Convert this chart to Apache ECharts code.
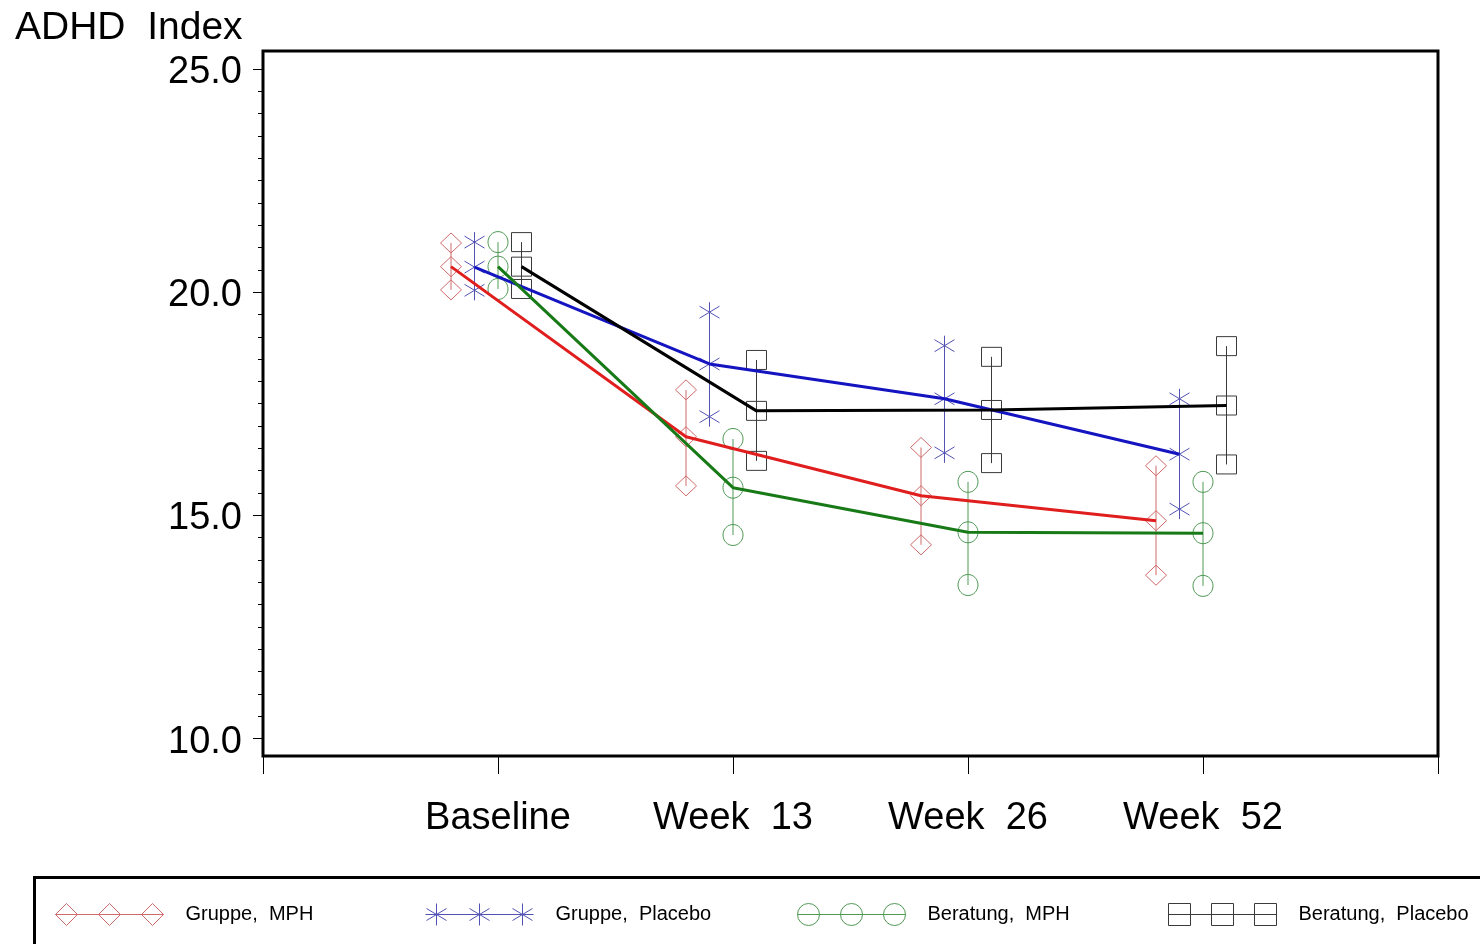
<!DOCTYPE html>
<html>
<head>
<meta charset="utf-8">
<script src="https://cdn.jsdelivr.net/npm/echarts@6/dist/echarts.min.js"></script>
<style>
html,body{margin:0;padding:0;background:#fff;}
#chart{width:1480px;height:944px;}
</style>
</head>
<body>
<div id="chart"></div>
<script>
// ---------- data ----------
const categories = ['Baseline', 'Week  13', 'Week  26', 'Week  52'];
const yMajorTicks = [10, 15, 20, 25];
const yMinorStep = 0.5;
const seriesNames = ['Gruppe,  MPH', 'Gruppe,  Placebo', 'Beratung,  MPH', 'Beratung,  Placebo'];

const gruppeMphMean  = [20.57, 16.76, 15.44, 14.88];
const gruppeMphUpper = [21.10, 17.81, 16.52, 16.11];
const gruppeMphLower = [20.05, 15.66, 14.34, 13.66];

const gruppePlaceboMean  = [20.56, 18.39, 17.61, 16.37];
const gruppePlaceboUpper = [21.12, 19.55, 18.80, 17.61];
const gruppePlaceboLower = [20.04, 17.21, 16.40, 15.14];

const beratungMphMean  = [20.57, 15.62, 14.62, 14.60];
const beratungMphUpper = [21.12, 16.71, 15.75, 15.75];
const beratungMphLower = [20.07, 14.56, 13.44, 13.42];

const beratungPlaceboMean  = [20.57, 17.34, 17.36, 17.46];
const beratungPlaceboUpper = [21.12, 18.48, 18.55, 18.79];
const beratungPlaceboLower = [20.07, 16.22, 16.17, 16.14];

// ---------- styling ----------
const groups = [
  {name: seriesNames[0], mean: gruppeMphMean, upper: gruppeMphUpper, lower: gruppeMphLower,
   offset: -0.2, marker: 'diamond', lineColor: '#e01e1e', barColor: '#cf6a6a', legendLeft: 55},
  {name: seriesNames[1], mean: gruppePlaceboMean, upper: gruppePlaceboUpper, lower: gruppePlaceboLower,
   offset: -0.1, marker: 'star', lineColor: '#1414c0', barColor: '#5252b4', legendLeft: 425},
  {name: seriesNames[2], mean: beratungMphMean, upper: beratungMphUpper, lower: beratungMphLower,
   offset: 0.0, marker: 'circle', lineColor: '#177a17', barColor: '#4f9a55', legendLeft: 797},
  {name: seriesNames[3], mean: beratungPlaceboMean, upper: beratungPlaceboUpper, lower: beratungPlaceboLower,
   offset: 0.1, marker: 'square', lineColor: '#000000', barColor: '#3a3a3a', legendLeft: 1168}
];

const legendIcons = {
  diamond: 'path://M0 11L11 0L22 11L11 22Z M43 11L54 0L65 11L54 22Z M86 11L97 0L108 11L97 22Z M0 11L108 11',
  star: 'path://M11 0L11 22 M1 5L21 17 M1 17L21 5 M54 0L54 22 M44 5L64 17 M44 17L64 5 M97 0L97 22 M87 5L107 17 M87 17L107 5 M0 11L108 11',
  circle: 'path://M0 11A11 11 0 1 1 22 11A11 11 0 1 1 0 11Z M43 11A11 11 0 1 1 65 11A11 11 0 1 1 43 11Z M86 11A11 11 0 1 1 108 11A11 11 0 1 1 86 11Z M0 11L108 11',
  square: 'path://M0 0L22 0L22 22L0 22Z M43 0L65 0L65 22L43 22Z M86 0L108 0L108 22L86 22Z M0 11L108 11'
};

const FONT = '"Liberation Sans", Arial, Helvetica, sans-serif';

const yMin = 9.61, yMax = 25.40;
const yMinorTicks = [];
for (let v = yMajorTicks[0]; v <= yMajorTicks[yMajorTicks.length - 1] + 1e-9; v += yMinorStep) {
  yMinorTicks.push(Math.round(v * 10) / 10);
}
const xTickValues = [0, 1, 2, 3, 4, 5];
const xLabelValues = [1, 2, 3, 4];

function markerShapes(kind, cx, cy, color) {
  const st = {fill: 'none', stroke: color, lineWidth: 1};
  if (kind === 'diamond') {
    return [{type: 'polygon', shape: {points: [[cx - 10.5, cy], [cx, cy - 10], [cx + 10.5, cy], [cx, cy + 10]]}, style: st}];
  }
  if (kind === 'star') {
    return [
      {type: 'line', shape: {x1: cx, y1: cy - 10, x2: cx, y2: cy + 10}, style: st},
      {type: 'line', shape: {x1: cx - 10, y1: cy - 6, x2: cx + 10, y2: cy + 6}, style: st},
      {type: 'line', shape: {x1: cx - 10, y1: cy + 6, x2: cx + 10, y2: cy - 6}, style: st}
    ];
  }
  if (kind === 'circle') {
    return [{type: 'ellipse', shape: {cx: cx, cy: cy, rx: 10, ry: 10.5}, style: st}];
  }
  return [{type: 'rect', shape: {x: cx - 10, y: cy - 9.5, width: 20, height: 19}, style: st}];
}

const series = [];
groups.forEach(function (g) {
  const rows = categories.map(function (c, i) { return [i + 1 + g.offset, g.mean[i], g.upper[i], g.lower[i]]; });
  series.push({
    type: 'custom',
    name: g.name,
    xAxisIndex: 0, yAxisIndex: 0,
    data: rows,
    z: 2,
    itemStyle: {color: g.barColor},
    encode: {x: 0, y: [1, 2, 3]},
    renderItem: function (params, api) {
      const x = api.value(0);
      const pm = api.coord([x, api.value(1)]);
      const pu = api.coord([x, api.value(2)]);
      const pl = api.coord([x, api.value(3)]);
      let children = [{type: 'line', shape: {x1: pu[0], y1: pu[1], x2: pl[0], y2: pl[1]},
        style: {stroke: g.barColor, lineWidth: 1}}];
      [pu, pm, pl].forEach(function (p) { children = children.concat(markerShapes(g.marker, p[0], p[1], g.barColor)); });
      return {type: 'group', children: children};
    }
  });
});
groups.forEach(function (g) {
  series.push({
    type: 'line',
    name: g.name + ' (mean)',
    xAxisIndex: 0, yAxisIndex: 0,
    data: categories.map(function (c, i) { return [i + 1 + g.offset, g.mean[i]]; }),
    symbol: 'none',
    z: 5,
    itemStyle: {color: g.lineColor},
    lineStyle: {color: g.lineColor, width: 3}
  });
});

const legends = groups.map(function (g) {
  return {
    show: true,
    left: g.legendLeft,
    top: 903,
    padding: 0,
    orient: 'horizontal',
    itemWidth: 108,
    itemHeight: 22,
    symbolKeepAspect: false,
    selectedMode: false,
    data: [{name: g.name, icon: legendIcons[g.marker]}],
    itemStyle: {color: 'transparent', borderColor: g.barColor, borderWidth: 1},
    textStyle: {fontFamily: FONT, fontSize: 20, color: '#000', padding: [0, 0, 0, 17]}
  };
});

const chart = echarts.init(document.getElementById('chart'), null, {renderer: 'canvas'});
chart.setOption({
  animation: false,
  backgroundColor: '#fff',
  title: {
    text: 'ADHD  Index',
    left: 10, top: 4,
    textStyle: {fontFamily: FONT, fontSize: 39, fontWeight: 'normal', color: '#000'}
  },
  legend: legends,
  grid: {
    left: 263, right: 42, top: 51, bottom: 188,
    show: true, borderColor: '#000', borderWidth: 3, backgroundColor: 'transparent',
    outerBoundsMode: 'none'
  },
  xAxis: [{
    type: 'value', min: 0, max: 5, position: 'bottom',
    axisLine: {show: false},
    splitLine: {show: false},
    axisTick: {show: true, customValues: xTickValues, length: 18, lineStyle: {color: '#000', width: 1}},
    axisLabel: {
      show: true, customValues: xLabelValues, margin: 44,
      fontFamily: FONT, fontSize: 38, color: '#000',
      formatter: function (v) { return categories[Math.round(v) - 1] || ''; }
    }
  }],
  yAxis: [{
    type: 'value', min: yMin, max: yMax, position: 'left',
    axisLine: {show: false},
    splitLine: {show: false},
    axisTick: {show: true, customValues: yMajorTicks, length: 10, lineStyle: {color: '#000', width: 1}},
    axisLabel: {
      show: true, customValues: yMajorTicks, margin: 21,
      fontFamily: FONT, fontSize: 38, color: '#000',
      formatter: function (v) { return '{a|' + Number(v).toFixed(1) + '}'; },
      rich: {a: {fontFamily: FONT, fontSize: 38, color: '#000', padding: [7, 0, 0, 0]}}
    }
  }, {
    type: 'value', min: yMin, max: yMax, position: 'left', offset: 0,
    axisLine: {show: false},
    splitLine: {show: false},
    axisTick: {show: true, customValues: yMinorTicks, length: 5, lineStyle: {color: '#000', width: 1}},
    axisLabel: {show: false}
  }],
  graphic: [{
    type: 'rect',
    shape: {x: 34.5, y: 877.5, width: 1480, height: 120},
    style: {fill: 'none', stroke: '#000', lineWidth: 3},
    silent: true
  }],
  series: series
});
</script>
</body>
</html>
